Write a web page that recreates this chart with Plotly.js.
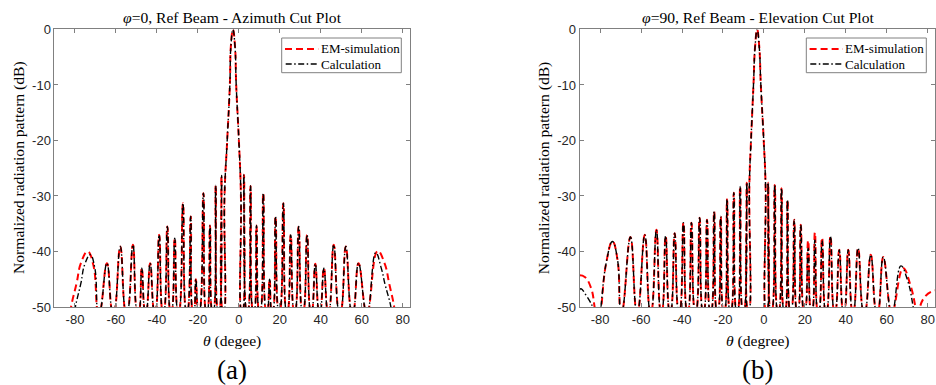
<!DOCTYPE html>
<html>
<head>
<meta charset="utf-8">
<script src="https://cdn.plot.ly/plotly-3.0.1.min.js"></script>
<style>html,body{margin:0;padding:0;background:#fff;}#chart{width:936px;height:385px;}</style>
</head>
<body>
<div id="chart"></div>
<script>
// ---------- Data ----------
// Azimuth cut (phi = 0): EM-simulation
var azThetaEM = [-83,-81.9,-79.2,-77.1,-73.8,-71,-68.6,
  -68.0,-64.4,-61.6, -61.0,-57.9,-55.1, -54.5,-51.7,-49.5, -48.9,-47.4,-45.7, -45.3,-43.3,-41.2,
  -40.8,-38.9,-37.1, -36.7,-34.9,-33.3, -32.9,-31.3,-29.7, -29.3,-27.3,-25.6, -25.2,-23.5,-22.4,
  -22.0,-21,-19.7, -19.3,-17.3,-15.9, -15.5,-14.1,-12.9, -12.5,-11.3,-10.1, -9.7,-8.5,-7.8,
  -7.4,-7.0,-5.7,-4.4,-3.9,-2.9,-1.9,-1.3,0.0,1.0,1.4,
  1.8,2.5,3.9, 4.3,5.7,7.0, 7.4,8.6,10.0, 10.4,11.9,13.4, 13.8,15,16.1, 16.5,17.9,19.5,
  19.9,21.7,23.3, 23.7,25.3,27.0, 27.4,29.2,31.0, 31.4,33.3,35.1, 35.5,37.3,39.2, 39.6,41.5,43.5,
  43.9,46.3,49.0, 49.6,52.2,55.1, 55.7,58.4,62.2,
  62.8,67.7,71,73.5,75.8,77];
var azDbEM = [-53,-50,-45.7,-42.1,-40,-42.5,-51,
  -51,-42.1,-51, -51,-39.1,-51, -51,-38.8,-51, -51,-43,-51, -51,-42.1,-51,
  -51,-37,-51, -51,-35.5,-51, -51,-37.6,-51, -51,-31.3,-51, -51,-33.7,-51,
  -51,-45,-51, -51,-29.5,-51, -51,-35.3,-51, -51,-28.1,-51, -51,-26.5,-51,
  -51,-30,-20,-10,-3,0,-3,-10,-20,-30,-51,
  -51,-26.2,-51, -51,-28.2,-51, -51,-35.3,-51, -51,-29.5,-51, -51,-45,-51, -51,-33.7,-51,
  -51,-31.3,-51, -51,-37,-51, -51,-35.5,-51, -51,-37,-51, -51,-42.2,-51, -51,-43,-51,
  -51,-38.8,-51, -51,-39.1,-51, -51,-42.1,-51,
  -51,-39.9,-42,-46,-50,-54];
// Azimuth cut: Calculation
var azThetaCalc = [-81,-79.8,-77.1,-75.2,-72.5,-70.3,-68.6,
  -68.0,-64.4,-61.6, -61.0,-57.9,-55.1, -54.5,-51.7,-49.5, -48.9,-47.4,-45.7, -45.3,-43.3,-41.2,
  -40.8,-38.9,-37.1, -36.7,-34.9,-33.3, -32.9,-31.3,-29.7, -29.3,-27.3,-25.6, -25.2,-23.5,-22.4,
  -22.0,-21,-19.7, -19.3,-17.3,-15.9, -15.5,-14.1,-12.9, -12.5,-11.3,-10.1, -9.7,-8.4,-7.8,
  -7.4,-7.0,-5.7,-4.4,-3.9,-2.9,-1.9,-1.3,0.0,1.0,1.4,
  1.8,2.4,3.9, 4.3,5.7,7.0, 7.4,8.6,10.0, 10.4,11.9,13.4, 13.8,15,16.1, 16.5,17.9,19.5,
  19.9,21.7,23.3, 23.7,25.3,27.0, 27.4,29.2,31.0, 31.4,33.3,35.1, 35.5,37.3,39.2, 39.6,41.5,43.5,
  43.9,46.3,49.0, 49.6,52.2,55.1, 55.7,58.4,62.2,
  62.8,66.8,69.5,71.4,74.2,75.5];
var azDbCalc = [-53,-50,-45.7,-42.3,-40.6,-43,-51,
  -51,-42.1,-51, -51,-39.1,-51, -51,-38.8,-51, -51,-43,-51, -51,-42.1,-51,
  -51,-37,-51, -51,-35.5,-51, -51,-37.6,-51, -51,-31.3,-51, -51,-33.7,-51,
  -51,-45,-51, -51,-29.5,-51, -51,-35.3,-51, -51,-28.1,-51, -51,-26.3,-51,
  -51,-30,-20,-10,-3,0,-3,-10,-20,-30,-51,
  -51,-26.1,-51, -51,-28.2,-51, -51,-35.3,-51, -51,-29.5,-51, -51,-45,-51, -51,-33.7,-51,
  -51,-31.3,-51, -51,-37,-51, -51,-35.5,-51, -51,-37,-51, -51,-42.2,-51, -51,-43,-51,
  -51,-38.8,-51, -51,-39.1,-51, -51,-42.1,-51,
  -51,-40.2,-43,-46,-50,-54];

// Elevation cut (phi = 90): EM-simulation
var elThetaEM = [-90,-87.5,-84.5,-82.7,-81.5,
  -80.2,-79.4,-77,-74,-71.5,-69.8,
  -69.4,-65.2,-62.1, -61.7,-58.2,-55.5, -55.1,-52.5,-50.3, -49.9,-48.0,-46.0, -45.6,-43.6,-41.6,
  -41.2,-39.3,-37.5, -37.1,-35.4,-33.6, -33.2,-31.4,-29.8, -29.4,-27.8,-26.2, -25.8,-24.3,-22.9,
  -22.5,-21.1,-19.7, -19.3,-18.0,-16.5, -16.1,-14.7,-13.3, -12.9,-11.6,-10.2, -9.8,-8.4,-7.8,
  -7.4,-7.1,-6.3,-5.1,-4.3,-3.3,-2.3,-1.5,-0.1,0.8,1.1,
  1.5,2.1,3.4, 3.8,5.3,6.8, 7.2,8.6,9.9, 10.3,11.5,12.9, 13.3,14.8,16.2, 16.6,18.0,19.6,
  20.0,21.6,23.1, 23.5,24.9,26.4, 26.8,28.4,30.2, 30.6,32.5,34.4, 34.8,36.8,38.8, 39.2,41.2,43.3,
  43.7,46.0,48.7, 49.3,52.2,55.0, 55.6,58.3,62.2,
  62.8,68,71.5,74,75.3, 76.2,79,82,84];
var elDbEM = [-44.3,-44.6,-46.5,-50,-53,
  -53,-50,-42,-38.2,-41.5,-51,
  -51,-37.4,-51, -51,-37.0,-51, -51,-36.1,-51, -51,-37.2,-51, -51,-36.7,-51,
  -51,-34.8,-51, -51,-34.8,-51, -51,-33.9,-51, -51,-34.3,-51, -51,-32.8,-51,
  -51,-33.7,-51, -51,-30.6,-51, -51,-29.4,-51, -51,-28.3,-51, -51,-27.6,-51,
  -51,-28,-20,-10,-3,0,-3,-10,-20,-28,-51,
  -51,-27.6,-51, -51,-28.0,-51, -51,-28.6,-51, -51,-30.7,-51, -51,-34.3,-51, -51,-35.2,-51,
  -51,-38.0,-51, -51,-36.6,-51, -51,-37.5,-51, -51,-37.2,-51, -51,-39.7,-51, -51,-39.7,-51,
  -51,-39.4,-51, -51,-40.6,-51, -51,-41.0,-51,
  -51,-43,-46,-50,-53, -50,-48,-47.2,-47];
// Elevation cut: Calculation
var elThetaCalc = [-90,-89.3,-87,-85,-83.7,-82.5,
  -80.5,-79.6,-77,-74,-71.5,-69.8,
  -69.4,-65.2,-62.1, -61.7,-58.2,-55.5, -55.1,-52.5,-50.3, -49.9,-48.0,-46.0, -45.6,-43.6,-41.6,
  -41.2,-39.3,-37.5, -37.1,-35.4,-33.6, -33.2,-31.4,-29.8, -29.4,-27.8,-26.2, -25.8,-24.3,-22.9,
  -22.5,-21.1,-19.7, -19.3,-18.0,-16.5, -16.1,-14.7,-13.3, -12.9,-11.6,-10.2, -9.8,-8.3,-7.8,
  -7.4,-7.1,-6.3,-5.1,-4.3,-3.3,-2.3,-1.5,-0.1,0.8,1.1,
  1.5,2.0,3.4, 3.8,5.3,6.8, 7.2,8.6,9.9, 10.3,11.5,12.9, 13.3,14.8,16.2, 16.6,18.0,19.6,
  20.0,21.6,23.1, 23.5,24.9,26.4, 26.8,28.4,30.2, 30.6,32.5,34.4, 34.8,36.8,38.8, 39.2,41.2,43.3,
  43.7,46.0,48.7, 49.3,52.2,55.0, 55.6,58.3,62.2,
  62.8,66.9,70,72.9,74.2];
var elDbCalc = [-46.9,-46.7,-47.8,-49,-50,-53,
  -53,-50,-42,-38.2,-41.5,-51,
  -51,-37.4,-51, -51,-37.0,-51, -51,-36.1,-51, -51,-37.2,-51, -51,-36.7,-51,
  -51,-34.8,-51, -51,-34.8,-51, -51,-33.9,-51, -51,-34.3,-51, -51,-32.8,-51,
  -51,-33.7,-51, -51,-30.6,-51, -51,-29.4,-51, -51,-28.3,-51, -51,-27.6,-51,
  -51,-28,-20,-10,-3,0,-3,-10,-20,-28,-51,
  -51,-27.6,-51, -51,-28.0,-51, -51,-28.6,-51, -51,-30.7,-51, -51,-34.3,-51, -51,-35.2,-51,
  -51,-39.4,-51, -51,-37.9,-51, -51,-38.0,-51, -51,-37.3,-51, -51,-39.7,-51, -51,-39.7,-51,
  -51,-39.4,-51, -51,-40.6,-51, -51,-41.0,-51,
  -51,-42.6,-45,-50,-54];

var seriesNames = ['EM-simulation', 'Calculation'];
var xTicks = [-80, -60, -40, -20, 0, 20, 40, 60, 80];
var yTicks = [-50, -40, -30, -20, -10, 0];

// ---------- Styling ----------
var SERIF = 'Liberation Serif';
var SANS = 'Liberation Sans';
var AXC = '#808080';
var EM_LINE = {color: '#ff0000', width: 2, dash: '7px,4px'};
var CALC_LINE = {color: '#000000', width: 1.4, dash: '6px,2.5px,1.5px,2.5px'};

function trace(x, y, xa, ya, idx) {
  var st = idx === 0 ? EM_LINE : CALC_LINE;
  return {x: x, y: y, xaxis: xa, yaxis: ya, name: seriesNames[idx], type: 'scatter', mode: 'lines',
    line: {color: st.color, width: st.width, dash: st.dash, shape: 'spline', smoothing: 1.3}};
}

var traces = [
  trace(azThetaEM, azDbEM, 'x', 'y', 0),
  trace(azThetaCalc, azDbCalc, 'x', 'y', 1),
  trace(elThetaEM, elDbEM, 'x2', 'y2', 0),
  trace(elThetaCalc, elDbCalc, 'x2', 'y2', 1)
];

function xAxis(domain, anchor) {
  return {domain: domain, anchor: anchor, range: [-90, 83.6], tickvals: xTicks, ticktext: xTicks.map(String),
    ticks: 'inside', ticklen: 4, tickcolor: AXC, showline: true, linecolor: AXC, linewidth: 1, mirror: 'ticks',
    showgrid: false, zeroline: false, tickfont: {family: SANS, size: 13, color: '#262626'}, fixedrange: true};
}
function yAxis(domain, anchor) {
  return {domain: domain, anchor: anchor, range: [-50, 0], tickvals: yTicks, ticktext: yTicks.map(String),
    ticks: 'inside', ticklen: 4, tickcolor: AXC, showline: true, linecolor: AXC, linewidth: 1, mirror: 'ticks',
    showgrid: false, zeroline: false, tickfont: {family: SANS, size: 13, color: '#262626'}, fixedrange: true};
}
function ann(text, x, y, size, angle, anchor) {
  return {text: text, x: x, y: y, xref: 'paper', yref: 'paper', xanchor: anchor || 'center', yanchor: 'middle',
    showarrow: false, textangle: angle || 0, font: {family: SERIF, size: size, color: '#000'}};
}
function px(v) { return v / 936; }
function py(v) { return 1 - v / 385; }

// Legend boxes (one per panel), drawn from the series names and line styles
function legendParts(boxL, boxR) {
  var shapes = [
    {type: 'rect', xref: 'paper', yref: 'paper', x0: px(boxL), x1: px(boxR), y0: py(72.7), y1: py(38),
      line: {color: AXC, width: 1}, fillcolor: '#ffffff', layer: 'above'},
    {type: 'line', xref: 'paper', yref: 'paper', x0: px(boxL + 3.3), x1: px(boxL + 36.5), y0: py(49), y1: py(49),
      line: EM_LINE, layer: 'above'},
    {type: 'line', xref: 'paper', yref: 'paper', x0: px(boxL + 4), x1: px(boxL + 36), y0: py(64), y1: py(64),
      line: CALC_LINE, layer: 'above'}
  ];
  var anns = [
    ann(seriesNames[0], px(boxL + 37), py(49), 13, 0, 'left'),
    ann(seriesNames[1], px(boxL + 37), py(64), 13, 0, 'left')
  ];
  return {shapes: shapes, anns: anns};
}
var leg1 = legendParts(281.7, 401.3);
var leg2 = legendParts(806.3, 926.3);

var layout = {
  width: 936, height: 385, margin: {l: 0, r: 0, t: 0, b: 0},
  paper_bgcolor: '#fff', plot_bgcolor: '#fff', showlegend: false,
  xaxis: xAxis([0.0582, 0.4382], 'y'),
  yaxis: yAxis([0.2026, 0.9234], 'x'),
  xaxis2: xAxis([0.6193, 0.9990], 'y2'),
  yaxis2: yAxis([0.2026, 0.9234], 'x2'),
  shapes: leg1.shapes.concat(leg2.shapes),
  annotations: [
    ann('<i>φ</i>=0, Ref Beam - Azimuth Cut Plot', px(232.3), py(17.7), 15.6),
    ann('<i>φ</i>=90, Ref Beam - Elevation Cut Plot', px(757.5), py(17.7), 15.6),
    ann('Normalized radiation pattern (dB)', px(19), py(168), 15.6, -90),
    ann('Normalized radiation pattern (dB)', px(544.3), py(168), 15.6, -90),
    ann('<i>θ</i> (degee)', px(232.3), py(340.7), 15.6),
    ann('<i>θ</i> (degree)', px(757.5), py(340.7), 15.6),
    ann('(a)', px(232.3), py(370), 27),
    ann('(b)', px(757.5), py(370), 27)
  ].concat(leg1.anns, leg2.anns)
};

Plotly.newPlot('chart', traces, layout, {staticPlot: true, displayModeBar: false});
</script>
</body>
</html>
